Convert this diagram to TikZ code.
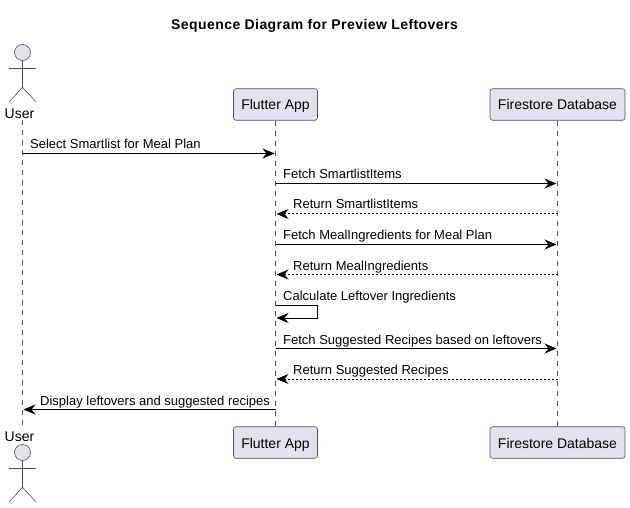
\documentclass[tikz,border=0pt]{standalone}
\usepackage{fontspec}
\setmainfont{Liberation Sans}
\newfontfamily\titlefont[LetterSpace=3.1]{Liberation Sans}
\usetikzlibrary{arrows.meta}
\definecolor{partfill}{HTML}{E2E2F0}
\definecolor{partline}{HTML}{181818}
\newcommand{\actorfig}[2]{%
	\node[actorhead] (#1) at (22.5,#2) {};
	\draw[actorline] (#1.south) -- ++(0,26.5) coordinate (#1hip);
	\draw[actorline] (9,#2+15.5) -- (36,#2+15.5);
	\draw[actorline] (9,#2+49.5) -- (#1hip) -- (36,#2+49.5);
}
\begin{document}
\begin{tikzpicture}[x=1pt,y=-1pt]

	\tikzstyle{part}=[fill=partfill,draw=partline!75,line width=0.6pt,
		rounded corners=2.5pt,minimum width=84pt,minimum height=31.5pt,
		inner sep=0pt,text height=11pt,text depth=0pt,font=\fontsize{14}{16}\selectfont]
	\tikzstyle{actorhead}=[circle,fill=partfill,draw=partline!75,line width=0.6pt,
		minimum size=16pt,inner sep=0pt]
	\tikzstyle{actorline}=[draw=partline!75,line width=0.6pt]
	\tikzstyle{actorname}=[inner sep=0pt,font=\fontsize{14}{16}\selectfont]
	\tikzstyle{life}=[draw=partline!75,line width=0.5pt,dash pattern=on 5pt off 5pt]
	\tikzstyle{msg}=[draw=black,line width=1pt,shorten >=1pt,-{Stealth[length=12pt,width=10pt,inset=4pt]}]
	\tikzstyle{reply}=[msg,dash pattern=on 2pt off 2pt]
	\tikzstyle{msgtext}=[inner sep=0pt,anchor=base west,font=\fontsize{13}{15}\selectfont]

	\useasboundingbox (0,0) rectangle (630,508);

	\node[inner sep=0pt,font=\fontsize{14}{16}\titlefont\bfseries] (title) at (314.5,26) {Sequence Diagram for Preview Leftovers};

	% participants
	\node[part] (appTop) at (275.5,104.5) {Flutter App};
	\node[part,minimum width=135pt] (dbTop) at (557.5,104.5) {Firestore Database};
	\node[part] (appBot) at (275.5,442.5) {Flutter App};
	\node[part,minimum width=135pt] (dbBot) at (557.5,442.5) {Firestore Database};

	\actorfig{userHead}{52.5}
	\actorfig{userFoot}{452.5}
	\node[actorname] (userTop) at (19.5,113.5) {User};
	\node[actorname] (userBot) at (19.5,436.5) {User};

	% lifelines
	\coordinate (userA) at (22.5,120);
	\coordinate (userB) at (22.5,427);
	\draw[life] (userA) -- (userB);
	\draw[life] (appTop.south) -- (appBot.north);
	\draw[life] (dbTop.south) -- (dbBot.north);

	% message rows
	\coordinate (m1) at (0,153.5);
	\coordinate (m2) at (0,183.5);
	\coordinate (m3) at (0,214);
	\coordinate (m4) at (0,244.5);
	\coordinate (m5) at (0,274.5);
	\coordinate (m6) at (0,305);
	\coordinate (m7) at (0,318);
	\coordinate (m8) at (0,348.5);
	\coordinate (m9) at (0,379);
	\coordinate (m10) at (0,409.5);

	\draw[msg] (userA |- m1) -- (appTop |- m1);
	\draw[msg] (appTop |- m2) -- (dbTop |- m2);
	\draw[reply] (dbTop |- m3) -- (appTop |- m3);
	\draw[msg] (appTop |- m4) -- (dbTop |- m4);
	\draw[reply] (dbTop |- m5) -- (appTop |- m5);
	\draw[msg] (appTop |- m6) -- ++(42,0) -- ++(0,13) -- (appTop |- m7);
	\draw[msg] (appTop |- m8) -- (dbTop |- m8);
	\draw[reply] (dbTop |- m9) -- (appTop |- m9);
	\draw[msg] (appTop |- m10) -- (userA |- m10);

	\node[msgtext] (t1) at (30,149) {Select Smartlist for Meal Plan};
	\node[msgtext] (t2) at (283,179) {Fetch SmartlistItems};
	\node[msgtext] (t3) at (293,209) {Return SmartlistItems};
	\node[msgtext] (t4) at (283,240) {Fetch MealIngredients for Meal Plan};
	\node[msgtext] (t5) at (293,270) {Return MealIngredients};
	\node[msgtext] (t6) at (283,300) {Calculate Leftover Ingredients};
	\node[msgtext] (t7) at (283,344) {Fetch Suggested Recipes based on leftovers};
	\node[msgtext] (t8) at (293,374) {Return Suggested Recipes};
	\node[msgtext] (t9) at (40,405) {Display leftovers and suggested recipes};

\end{tikzpicture}
\end{document}
